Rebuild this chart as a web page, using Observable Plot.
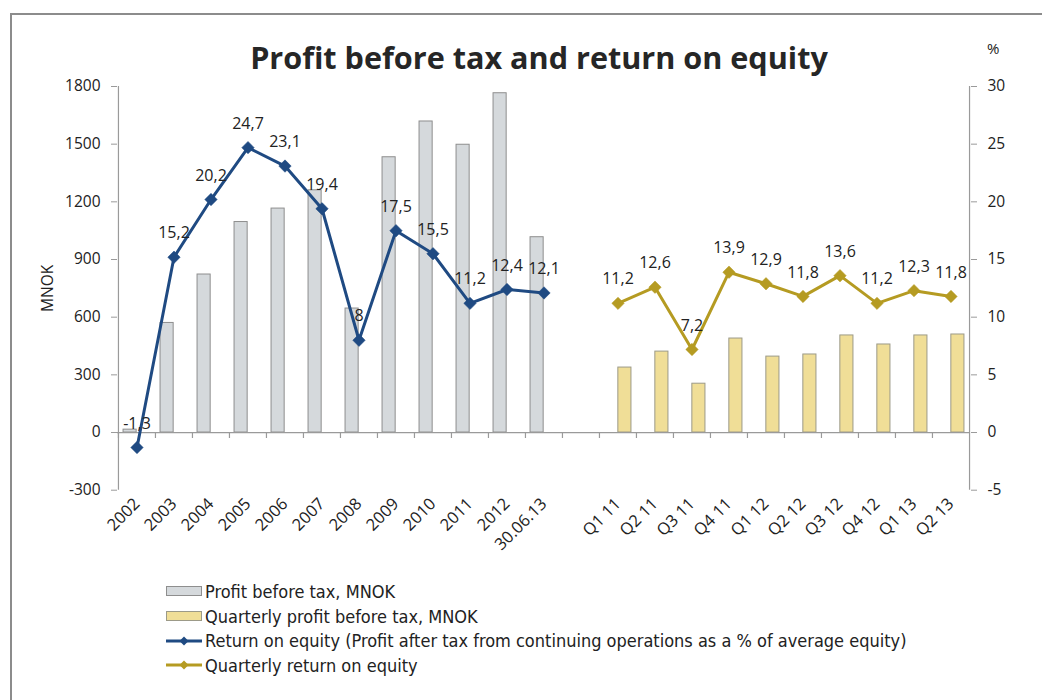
<!DOCTYPE html>
<html><head><meta charset="utf-8">
<script src="https://cdn.jsdelivr.net/npm/d3@7"></script>
<script src="https://cdn.jsdelivr.net/npm/@observablehq/plot@0.6"></script>
<style>
body{margin:0;background:#fff;}
#wrap{position:relative;width:1042px;height:700px;overflow:hidden;font-family:"Open Sans",sans-serif;}
#frame{position:absolute;left:10px;top:13px;width:1100px;height:760px;border:2px solid #8c8c8c;box-sizing:border-box;pointer-events:none}
#title{position:relative;height:70px;width:1042px;}
#title .t{position:absolute;left:0;width:1078px;top:37px;text-align:center;font-family:"Open Sans",sans-serif;font-weight:700;font-size:30.6px;color:#262626;line-height:40px;}
#title .pct{position:absolute;left:987px;top:38px;font-size:15px;color:#222;}
#legend{position:absolute;left:166px;top:579px;font-family:"DejaVu Sans Condensed","DejaVu Sans",sans-serif;font-size:18px;color:#222;}
#legend .row{height:24.7px;display:flex;align-items:center;}
#legend svg{margin-right:2px}
</style></head>
<body><div id="wrap"><div id="frame"></div>
<div id="title"><div class="t">Profit before tax and return on equity</div><div class="pct">%</div></div>
<div id="chart"></div>
<div id="legend"></div>
</div>
<script>
const years = ["2002","2003","2004","2005","2006","2007","2008","2009","2010","2011","2012","30.06.13"];
const profitYear = [15,570,822,1095,1165,1260,645,1432,1618,1497,1765,1016];
const roeYear = [-1.3,15.2,20.2,24.7,23.1,19.4,8,17.5,15.5,11.2,12.4,12.1];
const quarters = ["Q1 11","Q2 11","Q3 11","Q4 11","Q1 12","Q2 12","Q3 12","Q4 12","Q1 13","Q2 13"];
const profitQuarter = [338,421,254,489,395,406,505,458,505,510];
const roeQuarter = [11.2,12.6,7.2,13.9,12.9,11.8,13.6,11.2,12.3,11.8];
const leftTicks = [-300,0,300,600,900,1200,1500,1800];
const rightTicks = [-5,0,5,10,15,20,25,30];
const seriesNames = ["Profit before tax, MNOK","Quarterly profit before tax, MNOK","Return on equity (Profit after tax from continuing operations as a % of average equity)","Quarterly return on equity"];

const GAP = " ";
const cats = [...years, GAP, ...quarters];
const K = 60; // 1800 MNOK <-> 30 %
const annual = years.map((c,i)=>({cat:c, profit:profitYear[i], roe:roeYear[i]}));
const quarterly = quarters.map((c,i)=>({cat:c, profit:profitQuarter[i], roe:roeQuarter[i]}));

const W = 1042, ML = 117, MR = 72;
const step = (W-ML-MR)/cats.length;
const navy = "#1f4a82", gold = "#b59b22";
const grayFill = "#d5d9dc", grayStroke = "#8e8e8e", yellowFill = "#f0de97", yellowStroke = "#9c9a88";
const axisColor = "#9a9a9a";
const fmt = v => String(v).replace(".", ",");

const chart = Plot.plot({
  width: W, height: 490,
  marginLeft: ML, marginRight: MR, marginTop: 16, marginBottom: 70.3,
  style: {fontFamily: "Open Sans, sans-serif", fontSize: "15px", color: "#222", background: "transparent"},
  x: {type: "band", domain: cats, padding: 0},
  y: {domain: [-300, 1800]},
  marks: [
    Plot.barY(annual, {x: "cat", y: "profit", fill: grayFill, stroke: grayStroke, strokeWidth: 1, insetLeft: step/2-13.5, insetRight: step/2+0.3}),
    Plot.barY(quarterly, {x: "cat", y: "profit", fill: yellowFill, stroke: yellowStroke, strokeWidth: 1, insetLeft: step/2+0.3, insetRight: step/2-13.5}),
    Plot.ruleY([0], {stroke: axisColor, strokeWidth: 1.2}),
    Plot.ruleX(cats, {x: d => d, y1: 0, y2: -31, dx: -step/2, stroke: axisColor, strokeWidth: 1.2}),
    Plot.ruleX([cats[0]], {x: d => d, dx: -step/2, stroke: axisColor, strokeWidth: 1.2}),
    Plot.ruleX([cats[cats.length-1]], {x: d => d, dx: step/2, stroke: axisColor, strokeWidth: 1.2}),
    Plot.line(annual, {x: "cat", y: d => d.roe*K, stroke: navy, strokeWidth: 3}),
    Plot.dot(annual, {x: "cat", y: d => d.roe*K, symbol: "diamond2", r: 5.6, fill: navy, stroke: navy, strokeWidth: 0.5}),
    Plot.text(annual, {x: "cat", y: d => d.roe*K, text: d => fmt(d.roe), dy: -24, fontSize: 16, fill: "#222"}),
    Plot.line(quarterly, {x: "cat", y: d => d.roe*K, stroke: gold, strokeWidth: 3}),
    Plot.dot(quarterly, {x: "cat", y: d => d.roe*K, symbol: "diamond2", r: 5.6, fill: gold, stroke: gold, strokeWidth: 0.5}),
    Plot.text(quarterly, {x: "cat", y: d => d.roe*K, text: d => fmt(d.roe), dy: -24, fontSize: 16, fill: "#222"}),
    Plot.axisY({anchor: "left", ticks: leftTicks, tickFormat: d => String(d), tickSize: 6, tickPadding: 11, stroke: axisColor, label: "MNOK", labelAnchor: "center", labelOffset: 76, labelArrow: false, fontSize: 15.5}),
    Plot.axisY({anchor: "right", ticks: rightTicks.map(v => v*K), tickFormat: d => String(d/K), tickSize: 6, tickPadding: 11, stroke: axisColor, label: null, fontSize: 15.5}),
    Plot.axisX({anchor: "bottom", tickRotate: -45, tickSize: 0, tickPadding: 11, tickFormat: d => d.trim(), label: null, fontSize: 16.5})
  ]
});
document.getElementById("chart").appendChild(chart);

const leg = d3.select("#legend");
seriesNames.forEach((name, i) => {
  const row = leg.append("div").attr("class", "row");
  const s = row.append("svg").attr("width", 37).attr("height", 14);
  if (i < 2) {
    s.append("rect").attr("x", 0.5).attr("y", 2.5).attr("width", 35).attr("height", 9)
      .attr("fill", i === 0 ? grayFill : yellowFill).attr("stroke", i === 0 ? grayStroke : yellowStroke);
  } else {
    const c = i === 2 ? navy : gold;
    s.append("line").attr("x1", 0).attr("x2", 36).attr("y1", 7).attr("y2", 7).attr("stroke", c).attr("stroke-width", 3);
    s.append("path").attr("d", "M18,2.5L22.5,7L18,11.5L13.5,7Z").attr("fill", c);
  }
  row.append("span").text(name);
});
</script>
</body></html>
